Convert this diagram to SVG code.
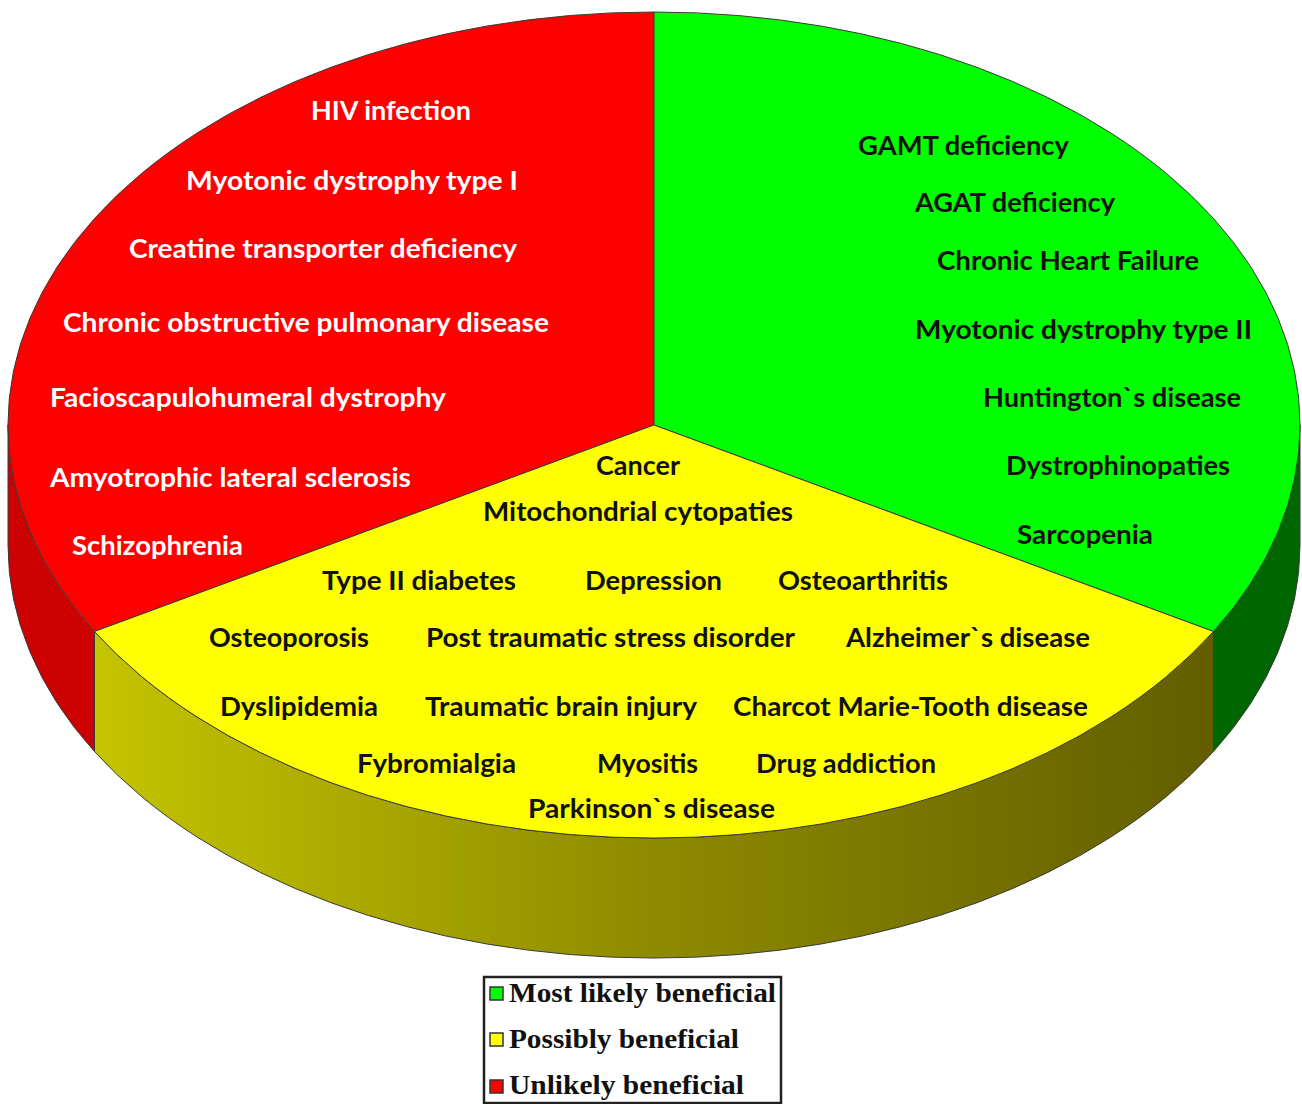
<svg xmlns="http://www.w3.org/2000/svg" width="1302" height="1104" viewBox="0 0 1302 1104">
  <defs>
    <linearGradient id="ySide" x1="94" y1="0" x2="1214" y2="0" gradientUnits="userSpaceOnUse">
      <stop offset="0" stop-color="#c4c400"/>
      <stop offset="0.5" stop-color="#8e8a00"/>
      <stop offset="1" stop-color="#625e00"/>
    </linearGradient>
    <style>
      .edge { stroke: #3a3a3a; stroke-width: 1; stroke-linejoin: round; }
      .lbl { font-family: "Lato", "Liberation Sans", sans-serif; font-weight: 700; font-size: 26px; }
      .w { fill: #ffffff; }
      .b { fill: #111111; }
      .leg { font-family: "Liberation Serif", "DejaVu Serif", serif; font-weight: 700; font-size: 27px; fill: #111111; }
      .sw { stroke: #333333; stroke-width: 1.5; }
    </style>
  </defs>
  <rect width="1302" height="1104" fill="#ffffff"/>

  <g id="pie-sides">
    <path class="edge" fill="#cc0000" d="M94.5,631.5 A646,413 0 0 1 8,425 L8,545 A646,413 0 0 0 94.5,751.5 Z"/>
    <path class="edge" fill="#006600" d="M1213.5,631.5 A646,413 0 0 0 1300,425 L1300,545 A646,413 0 0 1 1213.5,751.5 Z"/>
    <path class="edge" fill="url(#ySide)" d="M94.5,631.5 A646,413 0 0 0 1213.5,631.5 L1213.5,751.5 A646,413 0 0 1 94.5,751.5 Z"/>
  </g>

  <g id="sector-unlikely">
    <path class="edge" fill="#ff0000" d="M654,425 L94.5,631.5 A646,413 0 0 1 654,12 Z"/>
    <g class="lbl w">
      <text x="311" y="120" textLength="160" lengthAdjust="spacingAndGlyphs">HIV infection</text>
      <text x="186" y="190" textLength="332" lengthAdjust="spacingAndGlyphs">Myotonic dystrophy type I</text>
      <text x="129" y="258" textLength="388" lengthAdjust="spacingAndGlyphs">Creatine transporter deficiency</text>
      <text x="63" y="332" textLength="486" lengthAdjust="spacingAndGlyphs">Chronic obstructive  pulmonary disease</text>
      <text x="50" y="407" textLength="396" lengthAdjust="spacingAndGlyphs">Facioscapulohumeral  dystrophy</text>
      <text x="50" y="487" textLength="361" lengthAdjust="spacingAndGlyphs">Amyotrophic lateral sclerosis</text>
      <text x="72" y="555" textLength="171" lengthAdjust="spacingAndGlyphs">Schizophrenia</text>
    </g>
  </g>

  <g id="sector-most-likely">
    <path class="edge" fill="#00ff00" d="M654,425 L654,12 A646,413 0 0 1 1213.5,631.5 Z"/>
    <g class="lbl b">
      <text x="858" y="155" textLength="211" lengthAdjust="spacingAndGlyphs">GAMT deficiency</text>
      <text x="915" y="212" textLength="200" lengthAdjust="spacingAndGlyphs">AGAT deficiency</text>
      <text x="937" y="270" textLength="262" lengthAdjust="spacingAndGlyphs">Chronic Heart Failure</text>
      <text x="915" y="339" textLength="337" lengthAdjust="spacingAndGlyphs">Myotonic dystrophy type II</text>
      <text x="983" y="407" textLength="258" lengthAdjust="spacingAndGlyphs">Huntington`s disease</text>
      <text x="1006" y="475" textLength="224" lengthAdjust="spacingAndGlyphs">Dystrophinopaties</text>
      <text x="1017" y="544" textLength="136" lengthAdjust="spacingAndGlyphs">Sarcopenia</text>
    </g>
  </g>

  <g id="sector-possibly">
    <path class="edge" fill="#ffff00" d="M654,425 L1213.5,631.5 A646,413 0 0 1 94.5,631.5 Z"/>
    <g class="lbl b">
      <text x="596" y="475" textLength="84" lengthAdjust="spacingAndGlyphs">Cancer</text>
      <text x="483" y="521" textLength="310" lengthAdjust="spacingAndGlyphs">Mitochondrial  cytopaties</text>
      <text x="322" y="590" textLength="194" lengthAdjust="spacingAndGlyphs">Type II diabetes</text>
      <text x="585" y="590" textLength="137" lengthAdjust="spacingAndGlyphs">Depression</text>
      <text x="778" y="590" textLength="170" lengthAdjust="spacingAndGlyphs">Osteoarthritis</text>
      <text x="209" y="647" textLength="160" lengthAdjust="spacingAndGlyphs">Osteoporosis</text>
      <text x="426" y="647" textLength="369" lengthAdjust="spacingAndGlyphs">Post traumatic stress disorder</text>
      <text x="846" y="647" textLength="244" lengthAdjust="spacingAndGlyphs">Alzheimer`s disease</text>
      <text x="220" y="716" textLength="158" lengthAdjust="spacingAndGlyphs">Dyslipidemia</text>
      <text x="425" y="716" textLength="272" lengthAdjust="spacingAndGlyphs">Traumatic brain injury</text>
      <text x="733" y="716" textLength="355" lengthAdjust="spacingAndGlyphs">Charcot Marie-Tooth  disease</text>
      <text x="357" y="773" textLength="159" lengthAdjust="spacingAndGlyphs">Fybromialgia</text>
      <text x="597" y="773" textLength="101" lengthAdjust="spacingAndGlyphs">Myositis</text>
      <text x="756" y="773" textLength="180" lengthAdjust="spacingAndGlyphs">Drug addiction</text>
      <text x="528" y="818" textLength="247" lengthAdjust="spacingAndGlyphs">Parkinson`s  disease</text>
    </g>
  </g>

  <g id="legend">
    <rect x="484" y="977" width="297" height="126" fill="#ffffff" stroke="#222222" stroke-width="2.5"/>
    <rect class="sw" x="490" y="987" width="13" height="13" fill="#00ff00"/>
    <rect class="sw" x="490" y="1033" width="13" height="13" fill="#ffff00"/>
    <rect class="sw" x="490" y="1080" width="13" height="13" fill="#ff0000"/>
    <text class="leg" x="509" y="1002" textLength="267" lengthAdjust="spacingAndGlyphs">Most likely beneficial</text>
    <text class="leg" x="509" y="1048" textLength="230" lengthAdjust="spacingAndGlyphs">Possibly beneficial</text>
    <text class="leg" x="509" y="1094" textLength="235" lengthAdjust="spacingAndGlyphs">Unlikely beneficial</text>
  </g>
</svg>
